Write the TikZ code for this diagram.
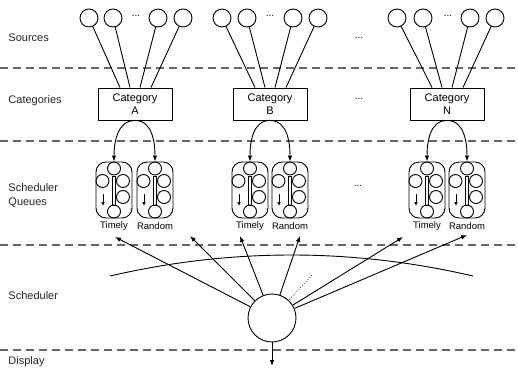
\documentclass[tikz,border=0pt]{standalone}
\usepackage{fontspec}
\setmainfont{Liberation Sans}
\usetikzlibrary{arrows.meta,calc}
\begin{document}
\begin{tikzpicture}[x=1pt,y=-1pt,line width=0.9pt,
  src/.style={circle,draw,minimum size=18pt,inner sep=0pt},
  catbox/.style={draw,minimum width=74pt,minimum height=32pt,inner sep=0pt,align=center,font=\fontsize{11}{13.5}\selectfont},
  lbl/.style={anchor=west,align=left,font=\fontsize{11}{14}\selectfont,text=black!85,inner sep=0pt},
  qlbl/.style={font=\fontsize{9.5}{11}\selectfont,inner sep=0pt},
  dots/.style={font=\fontsize{10}{12}\selectfont,inner sep=0pt},
  sep/.style={dash pattern=on 8pt off 5pt,line width=1.2pt,draw=black!60},
  qbox/.style={draw,rounded corners=10pt,minimum width=36pt,minimum height=56pt,inner sep=0pt},
  arr/.style={-{Latex[length=6pt,width=4.5pt]}},
  sarr/.style={-{Latex[length=4pt,width=3.5pt]},line width=0.7pt},
  sched/.style={circle,draw,minimum size=48pt,inner sep=0pt}
]
\useasboundingbox (0,0) rectangle (518,367);

% separators
\foreach \yy/\nm in {68/d1,141/d2,245/d3,350/d4}{
  \coordinate (\nm l) at (0,\yy);
  \coordinate (\nm r) at (518,\yy);
  \draw[sep] (\nm l) -- (\nm r);
}

% row labels
\node[lbl] (lsrc) at (8,38) {Sources};
\node[lbl] (lcat) at (8,101) {Categories};
\node[lbl] (lque) at (8,196) {Scheduler\\Queues};
\node[lbl] (lsch) at (8,296) {Scheduler};
\node[lbl] (ldis) at (8,362) {Display};

% categories
\node[catbox] (cA) at (135,104) {Category\\A};
\node[catbox] (cB) at (270,104) {Category\\B};
\node[catbox] (cN) at (447,104) {Category\\N};

% sources
\foreach \g/\a/\b/\c/\d/\m in {A/89/113/158/183/136, B/222/247/293/318/270, N/397/423/470/495/448}{
  \node[src] (s\g1) at (\a,18) {};
  \node[src] (s\g2) at (\b,18) {};
  \node[src] (s\g3) at (\c,18) {};
  \node[src] (s\g4) at (\d,18) {};
  \node[dots] (s\g d) at (\m,16) {...};
  \draw (s\g1) -- ($(c\g.north)+(-15,0)$);
  \draw (s\g2) -- ($(c\g.north)+(-5,0)$);
  \draw (s\g3) -- ($(c\g.north)+(5,0)$);
  \draw (s\g4) -- ($(c\g.north)+(16,0)$);
}

% middle ellipses
\node[dots] (md1) at (359,38) {...};
\node[dots] (md2) at (359,99) {...};
\node[dots] (md3) at (358,186) {...};

% queues
\foreach \n/\qx/\t in {qA1/114/Timely, qA2/155/Random, qB1/250/Timely, qB2/290/Random, qN1/427/Timely, qN2/467/Random}{
  \node[qbox] (\n) at (\qx,190) {};
  \node[qlbl] (\n l) at (\qx,226) {\t};
  \begin{scope}[shift={(\qx,190)}]
    \foreach \dx/\dy in {0/-21.5,-11.5/-9,9/-9,9/7,0/21.5}
      \draw (\dx,\dy) circle[radius=6.5pt];
    \draw[line width=0.6pt] (-1.6,-14) rectangle (1.6,15);
    \draw[sarr] (-11,4) -- (-11,16);
  \end{scope}
}

% category to queue arches
\foreach \g in {A,B,N}{
  \draw[arr] (c\g.south) to[out=180,in=90] (q\g1.north);
  \draw[arr] (c\g.south) to[out=0,in=90] (q\g2.north);
}

% scheduler
\node[sched] (sch) at (272,318) {};
\coordinate (arcL) at (110,276);
\coordinate (arcR) at (473,276);
\draw (arcL) .. controls (231,248) and (352,248) .. (arcR);

\foreach \i/\tx/\ty in {1/115/237,2/190/236,3/240/236,4/300/236,5/403/237,6/467/235}{
  \coordinate (t\i) at (\tx,\ty);
  \draw[arr] (sch) -- (t\i);
}
\coordinate (dt) at (312,275);
\draw[dotted,line width=0.7pt,shorten <=1pt] (sch) -- (dt);

\coordinate (disp) at (272,366);
\draw[arr] (sch) -- (disp);
\end{tikzpicture}
\end{document}
